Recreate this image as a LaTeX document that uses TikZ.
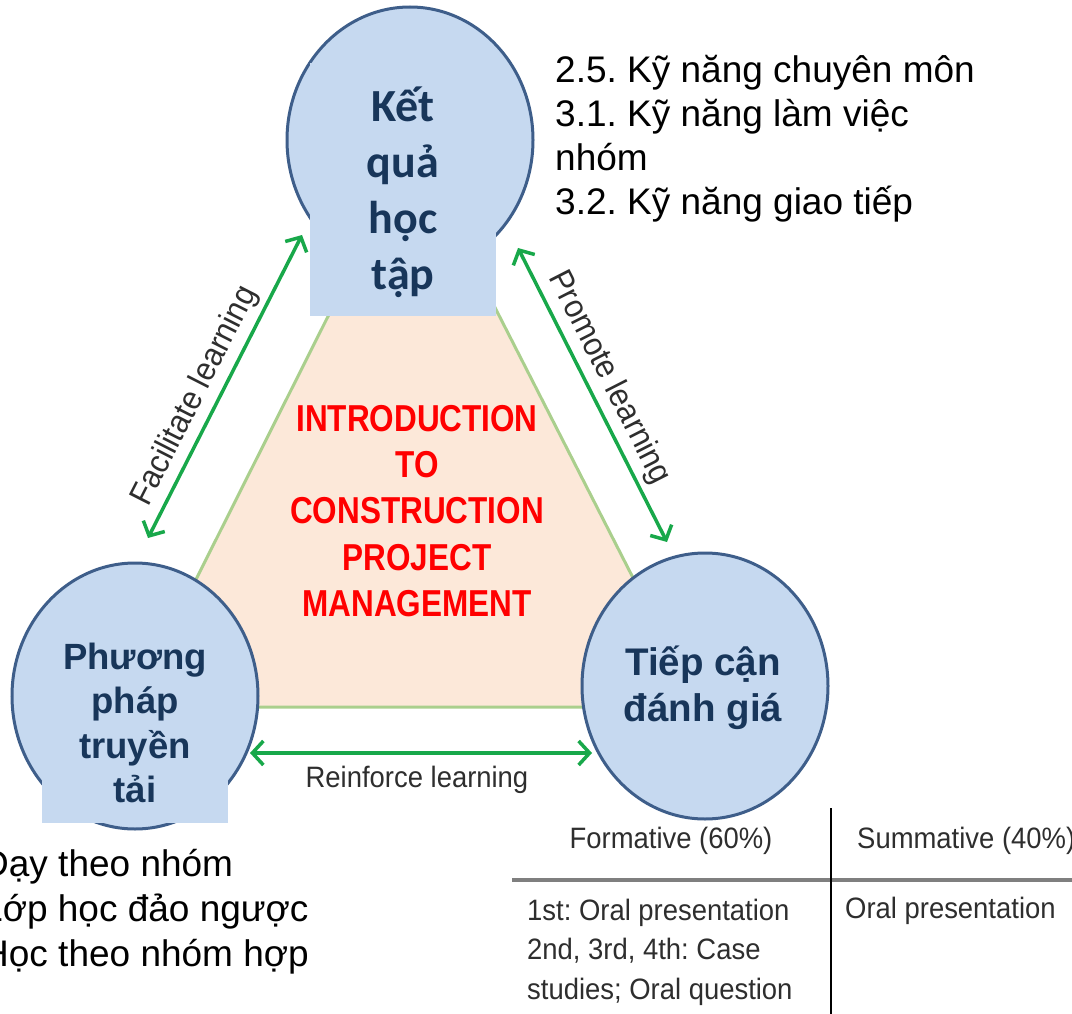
\documentclass[tikz,border=0pt]{standalone}
\usepackage{fontspec}
\setmainfont{Liberation Sans}
\newfontfamily\calib{Carlito}
\newfontfamily\narrowf[FakeStretch=0.93]{Liberation Sans}
\newfontfamily\redf[FakeStretch=0.84]{Liberation Sans}
\usetikzlibrary{shapes.geometric,arrows.meta}
\definecolor{circfill}{HTML}{C6D9F0}
\definecolor{circline}{HTML}{3E5E8A}
\definecolor{navy}{HTML}{18365A}
\definecolor{trifill}{HTML}{FCE8D9}
\definecolor{triline}{HTML}{AACF8D}
\definecolor{arrgreen}{HTML}{18A84A}
\definecolor{labgray}{HTML}{2E2E2E}
\definecolor{rulegray}{HTML}{7F7F7F}
\frenchspacing
\begin{document}
\begin{tikzpicture}[x=1pt,y=-1pt,
  circ/.style={ellipse, draw=circline, line width=3pt, fill=circfill,
    minimum width=246pt, minimum height=266pt, inner sep=0pt},
  pad/.style={fill=circfill, inner sep=0pt, anchor=north west},
  ctext/.style={text=navy, align=center, inner sep=0pt},
  link/.style={draw=arrgreen, line width=3.5pt,
    {Straight Barb[length=11pt,width=24pt]}-{Straight Barb[length=11pt,width=24pt]}},
  lab/.style={text=labgray, inner sep=0pt, font=\narrowf\fontsize{29.5}{36}\selectfont},
  diaglab/.style={text=labgray, inner sep=0pt, font=\narrowf\fontsize{33}{36}\selectfont},
  plain/.style={text=black, inner sep=0pt, align=left},
  tab/.style={text=labgray, inner sep=0pt, font=\narrowf\fontsize{29.5}{39.5}\selectfont}]
\useasboundingbox (0,0) rectangle (1072,1014);
\clip (0,0) rectangle (1072,1014);

% central triangle
\coordinate (ta) at (413,147);
\coordinate (tl) at (132,707);
\coordinate (tr) at (699,707);
\draw[fill=trifill, draw=triline, line width=3pt] (ta) -- (tl) -- (tr) -- cycle;

% arrows
\coordinate (fa) at (302,235);
\coordinate (fb) at (148,538);
\coordinate (pa) at (518,248);
\coordinate (pb) at (667,542);
\coordinate (ra) at (250,753);
\coordinate (rb) at (592,753);
\draw[link] (fa) -- (fb);
\draw[link] (pa) -- (pb);
\draw[link] (ra) -- (rb);

% circles
\node[circ] (top) at (410,140) {};
\node[circ] (left) at (135,696) {};
\node[circ] (right) at (705,686) {};

% pads
\node[pad, minimum width=186pt, minimum height=253pt] (toppad) at (310,63) {};
\node[pad, minimum width=186pt, minimum height=50pt] (leftpad) at (42,773) {};

% circle texts
\node[ctext, font=\calib\bfseries\fontsize{46}{56}\selectfont] (kq) at (403,192) {Kết\\quả\\học\\tập};
\node[ctext, font=\bfseries\fontsize{36.5}{44.5}\selectfont] (pp) at (135,723) {Phương\\pháp\\truyền\\tải};
\node[ctext, font=\bfseries\fontsize{38.5}{46}\selectfont] (tc) at (703,688) {Tiếp cận\\đánh giá};

% centre title
\node[align=center, inner sep=0pt, text=red, font=\redf\bfseries\fontsize{37.5}{46.25}\selectfont] (title) at (417,511)
  {INTRODUCTION\\TO\\CONSTRUCTION\\PROJECT\\MANAGEMENT};

% arrow labels
\node[diaglab, rotate=63] (fl) at (195,396) {Facilitate learning};
\node[diaglab, rotate=-63] (pl) at (609,378) {Promote learning};
\node[lab, anchor=base] (rl) at (417,787) {Reinforce learning};

% side texts
\node[plain, anchor=west, font=\fontsize{37}{44}\selectfont] (goals) at (555,139)
  {2.5. Kỹ năng chuyên môn\\3.1. Kỹ năng làm việc\\nhóm\\3.2. Kỹ năng giao tiếp};
\node[plain, anchor=west, font=\fontsize{37}{45}\selectfont] (methods) at (-18,912)
  {Dạy theo nhóm\\Lớp học đảo ngược\\Học theo nhóm hợp};

% table
\coordinate (hl) at (512,880);
\coordinate (hr) at (1072,880);
\coordinate (vt) at (831,808);
\coordinate (vb) at (831,1014);
\draw[rulegray, line width=3.5pt] (hl) -- (hr);
\draw[black, line width=1.5pt] (vt) -- (vb);
\node[tab, anchor=base] (form) at (671,848) {Formative (60\%)};
\node[tab, anchor=base west] (summ) at (857,848) {Summative (40\%)};
\node[tab, anchor=west, align=left] (formbody) at (527,952)
  {1st: Oral presentation\\2nd, 3rd, 4th: Case\\studies; Oral question};
\node[tab, anchor=base west] (summbody) at (845,918) {Oral presentation};
\end{tikzpicture}
\end{document}
